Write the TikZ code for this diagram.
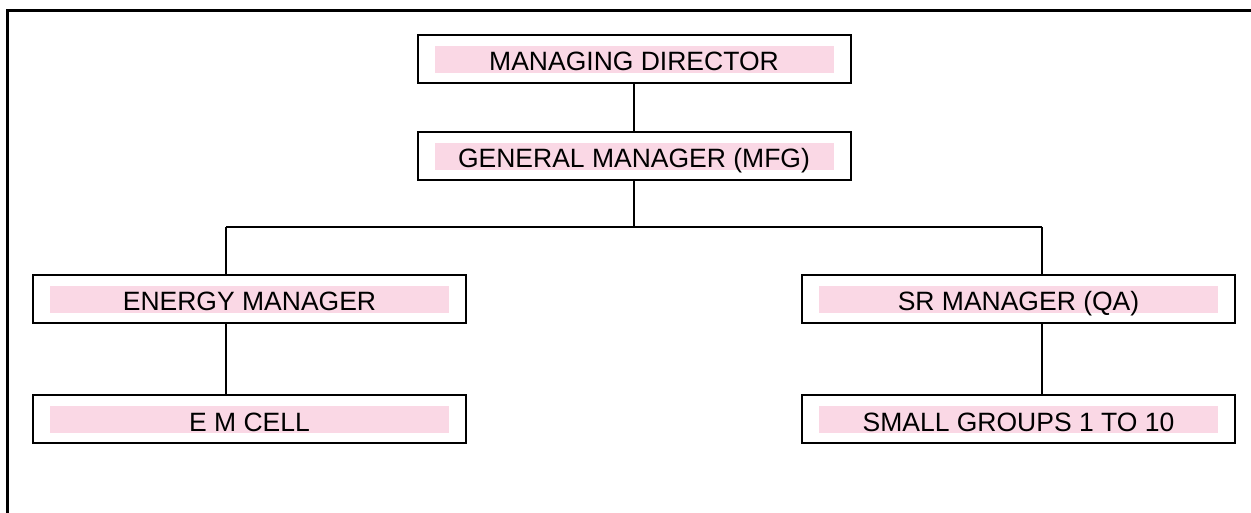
\documentclass[tikz,border=0pt]{standalone}
\usepackage{fontspec}
\setmainfont{Liberation Sans}
\definecolor{bandpink}{RGB}{250,216,229}
\begin{document}
\begin{tikzpicture}[x=1pt,y=-1pt,
  orgbox/.style={draw=black,line width=2pt,minimum width=433pt,minimum height=48pt,
    inner sep=0pt,text height=31pt,text depth=7pt,font=\fontsize{26.5}{30}\selectfont,
    path picture={\fill[bandpink] ([shift={(17pt,-11pt)}]path picture bounding box.north west)
      rectangle ([shift={(-17pt,10pt)}]path picture bounding box.south east);}},
  link/.style={draw=black,line width=2pt}]
\useasboundingbox (0,0) rectangle (1251,513);
\draw[line width=3pt] (7.5,513) -- (7.5,11) -- (1251,11);
\node[orgbox] (md) at (634,59) {MANAGING DIRECTOR};
\node[orgbox] (gm) at (634,156) {GENERAL MANAGER (MFG)};
\node[orgbox] (em) at (249.5,299) {ENERGY MANAGER};
\node[orgbox] (emc) at (249.5,419) {E M CELL};
\node[orgbox] (sr) at (1018.5,299) {SR MANAGER (QA)};
\node[orgbox] (sg) at (1018.5,419) {SMALL GROUPS 1 TO 10};
\coordinate (jc) at (634,227);
\coordinate (jl) at (226,227);
\coordinate (jr) at (1042,227);
\draw[link] (md.south) -- (gm.north);
\draw[link] (gm.south) -- (jc);
\draw[link] (jl) -- (jr);
\draw[link] (jl) -- (jl |- em.north);
\draw[link] (jr) -- (jr |- sr.north);
\draw[link] (jl |- em.south) -- (jl |- emc.north);
\draw[link] (jr |- sr.south) -- (jr |- sg.north);
\end{tikzpicture}
\end{document}
